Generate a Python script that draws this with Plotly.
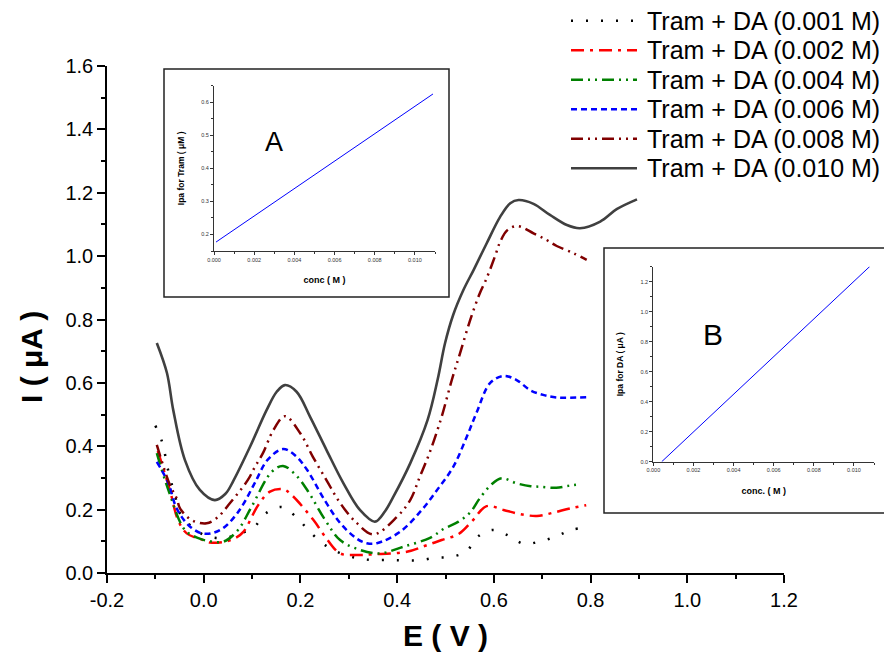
import plotly.graph_objects as go

FONT = "Liberation Sans, Arial, sans-serif"
W, H = 892, 655
PAGE_OFFSET = 8  # the page body adds an 8 px margin around the figure

# ---------------- data ----------------
concs = ["0.001", "0.002", "0.004", "0.006", "0.008", "0.010"]
labels = ["Tram + DA (%s M)" % c for c in concs]

E_001 = [-0.1, -0.087, -0.08, -0.074, -0.058, -0.049, -0.02, 0.006, 0.038, 0.07, 0.103, 0.128, 0.162,
         0.193, 0.22, 0.251, 0.282, 0.317, 0.347, 0.382, 0.413, 0.446, 0.478, 0.511, 0.543, 0.567,
         0.598, 0.63, 0.662, 0.694, 0.728, 0.76, 0.792]
I_001 = [0.465, 0.418, 0.374, 0.327, 0.236, 0.188, 0.14, 0.117, 0.11, 0.122, 0.143, 0.188, 0.208,
         0.174, 0.129, 0.088, 0.063, 0.047, 0.041, 0.041, 0.04, 0.04, 0.048, 0.051, 0.068, 0.115,
         0.136, 0.118, 0.092, 0.099, 0.115, 0.136, 0.144]

E_002 = [-0.095, -0.07, -0.053, -0.035, -0.001, 0.013, 0.04, 0.065, 0.082, 0.113, 0.137, 0.165, 0.182,
         0.227, 0.251, 0.282, 0.315, 0.351, 0.42, 0.458, 0.492, 0.527, 0.554, 0.585, 0.62, 0.654,
         0.689, 0.722, 0.758, 0.791]
I_002 = [0.385, 0.262, 0.167, 0.125, 0.104, 0.096, 0.098, 0.11, 0.13, 0.215, 0.257, 0.264, 0.246,
         0.167, 0.115, 0.062, 0.057, 0.059, 0.067, 0.086, 0.104, 0.123, 0.162, 0.211, 0.199, 0.186,
         0.18, 0.19, 0.204, 0.214]

E_004 = [-0.097, -0.073, -0.039, -0.011, 0.013, 0.041, 0.07, 0.099, 0.141, 0.164, 0.19, 0.214, 0.25,
         0.282, 0.323, 0.365, 0.413, 0.468, 0.496, 0.527, 0.551, 0.571, 0.594, 0.616, 0.647, 0.676,
         0.697, 0.729, 0.757, 0.78]
I_004 = [0.378, 0.262, 0.136, 0.11, 0.1, 0.099, 0.134, 0.209, 0.32, 0.338, 0.31, 0.262, 0.17,
         0.104, 0.073, 0.062, 0.083, 0.111, 0.139, 0.162, 0.191, 0.236, 0.278, 0.299, 0.283, 0.274,
         0.272, 0.269, 0.276, 0.28]

E_006 = [-0.097, -0.073, -0.059, -0.046, -0.028, -0.004, 0.02, 0.044, 0.065, 0.081, 0.106, 0.132, 0.164,
         0.19, 0.214, 0.25, 0.282, 0.315, 0.337, 0.358, 0.406, 0.451, 0.485, 0.516, 0.544, 0.565,
         0.592, 0.62, 0.647, 0.675, 0.702, 0.73, 0.795]
I_006 = [0.351, 0.283, 0.215, 0.178, 0.146, 0.125, 0.127, 0.146, 0.18, 0.215, 0.285, 0.357, 0.391,
         0.37, 0.325, 0.23, 0.158, 0.11, 0.094, 0.094, 0.13, 0.199, 0.267, 0.335, 0.43, 0.509,
         0.599, 0.622, 0.609, 0.577, 0.562, 0.554, 0.555]

E_008 = [-0.097, -0.07, -0.056, -0.049, -0.025, 0.006, 0.029, 0.054, 0.091, 0.106, 0.123, 0.144, 0.168,
         0.2, 0.226, 0.255, 0.282, 0.315, 0.351, 0.4, 0.427, 0.447, 0.468, 0.492, 0.513, 0.530,
         0.551, 0.571, 0.585, 0.602, 0.613, 0.628, 0.649, 0.682, 0.709, 0.73, 0.765, 0.792]
I_008 = [0.404, 0.278, 0.236, 0.204, 0.167, 0.157, 0.176, 0.22, 0.293, 0.335, 0.38, 0.451, 0.495,
         0.44, 0.366, 0.29, 0.221, 0.16, 0.122, 0.178, 0.23, 0.304, 0.383, 0.493, 0.609, 0.693,
         0.798, 0.883, 0.93, 0.998, 1.045, 1.082, 1.095, 1.072, 1.051, 1.032, 1.009, 0.988]

E_010 = [-0.097, -0.076, -0.063, -0.039, -0.008, 0.023, 0.045, 0.061, 0.096, 0.13, 0.151, 0.168,
         0.192, 0.22, 0.254, 0.289, 0.323, 0.354, 0.375, 0.392, 0.427, 0.463, 0.484, 0.499, 0.516,
         0.537, 0.558, 0.585, 0.613, 0.634, 0.651, 0.682, 0.716, 0.751, 0.778, 0.82, 0.854, 0.896]
I_010 = [0.726, 0.631, 0.514, 0.357, 0.262, 0.23, 0.25, 0.29, 0.399, 0.514, 0.572, 0.593,
         0.572, 0.493, 0.388, 0.283, 0.199, 0.162, 0.195, 0.24, 0.346, 0.483, 0.612, 0.725, 0.815,
         0.893, 0.956, 1.04, 1.124, 1.167, 1.177, 1.165, 1.13, 1.098, 1.088, 1.109, 1.148, 1.179]

E_series = [E_001, E_002, E_004, E_006, E_008, E_010]
I_series = [I_001, I_002, I_004, I_006, I_008, I_010]

# inset A: Ipa for Tram vs conc (linear fit line)
concA = [0.0001, 0.0109]
ipaA = [0.177, 0.625]
# inset B: Ipa for DA vs conc (linear fit line)
concB = [0.00042, 0.0108]
ipaB = [0.0, 1.303]

x_tickvals = [-0.2, 0.0, 0.2, 0.4, 0.6, 0.8, 1.0, 1.2]
x_ticktext = ["-0.2", "0.0", "0.2", "0.4", "0.6", "0.8", "1.0", "1.2"]

# ---------------- styles ----------------
colors = ["#000000", "#ff0000", "#008000", "#0000ff", "#800000", "#404040"]
dashes = ["2px,13px", "13px,6px,3px,6px", "12px,5px,2px,5px,2px,5px", "6px,4px",
          "12px,5px,2px,5px,2px,5px", "solid"]
widths = [2.5, 2.5, 2.5, 2.5, 2.5, 2.6]

fig = go.Figure()

for E, I, c, d, w, lab in zip(E_series, I_series, colors, dashes, widths, labels):
    fig.add_trace(go.Scatter(x=E, y=I, mode="lines", name=lab, showlegend=False,
                             line=dict(color=c, dash=d, width=w, shape="spline", smoothing=1.0),
                             xaxis="x", yaxis="y"))

fig.add_trace(go.Scatter(x=concA, y=ipaA, mode="lines", showlegend=False,
                         line=dict(color="#0000ff", width=1), xaxis="x2", yaxis="y2"))
fig.add_trace(go.Scatter(x=concB, y=ipaB, mode="lines", showlegend=False,
                         line=dict(color="#0000ff", width=1), xaxis="x3", yaxis="y3"))


def px_x(p):
    return (p - PAGE_OFFSET) / W


def px_y(p):
    return 1 - (p - PAGE_OFFSET) / H


main_x = [px_x(107), px_x(784)]
main_y = [px_y(573), px_y(66)]
insA_x = [px_x(214), px_x(435)]
insA_y = [px_y(251), px_y(85.7)]
insB_x = [px_x(653.3), px_x(874)]
insB_y = [px_y(461.7), px_y(266.7)]

tickfont = dict(family=FONT, size=20, color="black")
small_tick = dict(family=FONT, size=5.5, color="#333333")

common_inset = dict(showline=True, linecolor="#333333", linewidth=1, ticks="outside",
                    ticklen=3, tickwidth=1, tickcolor="#333333", showgrid=False,
                    zeroline=False, tickfont=small_tick, automargin=False)

layout = dict(
    width=W, height=H,
    margin=dict(l=0, r=0, t=0, b=0, autoexpand=False),
    paper_bgcolor="white", plot_bgcolor="rgba(0,0,0,0)",
    showlegend=False,
    xaxis=dict(domain=main_x, range=[-0.2, 1.2], tickmode="array", tickvals=x_tickvals,
               ticktext=x_ticktext, ticks="outside", ticklen=8, tickwidth=1.5,
               tickcolor="black", showline=True, linecolor="black", linewidth=1.5,
               showgrid=False, zeroline=False, tickfont=tickfont, automargin=False,
               minor=dict(tickmode="linear", tick0=-0.2, dtick=0.1, ticklen=4,
                          tickwidth=1.5, tickcolor="black", ticks="outside"),
               title=dict(text="<b>E ( V )</b>", font=dict(family=FONT, size=30, color="black")),
               anchor="y"),
    yaxis=dict(domain=main_y, range=[0, 1.6], dtick=0.2, tick0=0, tickformat=".1f",
               ticks="outside", ticklen=8, tickwidth=1.5, tickcolor="black",
               showline=True, linecolor="black", linewidth=1.5, showgrid=False,
               zeroline=False, tickfont=tickfont, automargin=False,
               minor=dict(dtick=0.1, ticklen=4, tickwidth=1.5, tickcolor="black",
                          ticks="outside"),
               anchor="x"),
    xaxis2=dict(domain=insA_x, range=[0, 0.011], dtick=0.002, tick0=0, tickformat=".3f",
                anchor="y2",
                minor=dict(dtick=0.001, ticklen=2, tickcolor="#333333", ticks="outside"),
                title=dict(text="<b>conc ( M )</b>", font=dict(family=FONT, size=9, color="black")),
                **common_inset),
    yaxis2=dict(domain=insA_y, range=[0.15, 0.65], dtick=0.1, tick0=0.2, tickformat=".1f",
                anchor="x2",
                minor=dict(dtick=0.05, ticklen=2, tickcolor="#333333", ticks="outside"),
                title=dict(text="<b>Ipa for Tram ( μM )</b>",
                           font=dict(family=FONT, size=8.5, color="black")),
                **common_inset),
    xaxis3=dict(domain=insB_x, range=[0, 0.011], dtick=0.002, tick0=0, tickformat=".3f",
                anchor="y3",
                minor=dict(dtick=0.001, ticklen=2, tickcolor="#333333", ticks="outside"),
                title=dict(text="<b>conc. ( M )</b>", font=dict(family=FONT, size=9, color="black")),
                **common_inset),
    yaxis3=dict(domain=insB_y, range=[0, 1.3], dtick=0.2, tick0=0, tickformat=".1f",
                anchor="x3",
                minor=dict(dtick=0.1, ticklen=2, tickcolor="#333333", ticks="outside"),
                title=dict(text="<b>Ipa for DA ( μA )</b>",
                           font=dict(family=FONT, size=8.5, color="black")),
                **common_inset),
)
fig.update_layout(**layout)

shapes = []
# inset frames
shapes.append(dict(type="rect", xref="paper", yref="paper", x0=px_x(164), x1=px_x(449),
                   y0=px_y(297), y1=px_y(69), line=dict(color="#222222", width=1.5),
                   fillcolor="white", layer="below"))
shapes.append(dict(type="rect", xref="paper", yref="paper", x0=px_x(604), x1=px_x(890),
                   y0=px_y(513), y1=px_y(248), line=dict(color="#222222", width=1.5),
                   fillcolor="white", layer="below"))

annotations = []
# legend (drawn manually to match the compact row spacing of the original)
for i, (lab, c, d, w) in enumerate(zip(labels, colors, dashes, widths)):
    yy = px_y(20.7 + 29.5 * i)
    shapes.append(dict(type="line", xref="paper", yref="paper", x0=px_x(571), x1=px_x(637),
                       y0=yy, y1=yy, line=dict(color=c, dash=d, width=w)))
    annotations.append(dict(xref="paper", yref="paper", x=px_x(645), y=yy, text=lab,
                            showarrow=False, xanchor="left", yanchor="middle",
                            font=dict(family=FONT, size=25, color="black")))

# y axis title of main plot
annotations.append(dict(xref="paper", yref="paper", x=px_x(31), y=px_y(357),
                        text="<b>I ( μA )</b>", textangle=-90, showarrow=False,
                        xanchor="center", yanchor="middle",
                        font=dict(family=FONT, size=30, color="black")))
# inset letters
annotations.append(dict(xref="x2", yref="y2", x=0.003, y=0.48, text="A", showarrow=False,
                        font=dict(family=FONT, size=27, color="black")))
annotations.append(dict(xref="x3", yref="y3", x=0.003, y=0.85, text="B", showarrow=False,
                        font=dict(family=FONT, size=30, color="black")))

fig.update_layout(shapes=shapes, annotations=annotations)

fig.write_html("out.html")
